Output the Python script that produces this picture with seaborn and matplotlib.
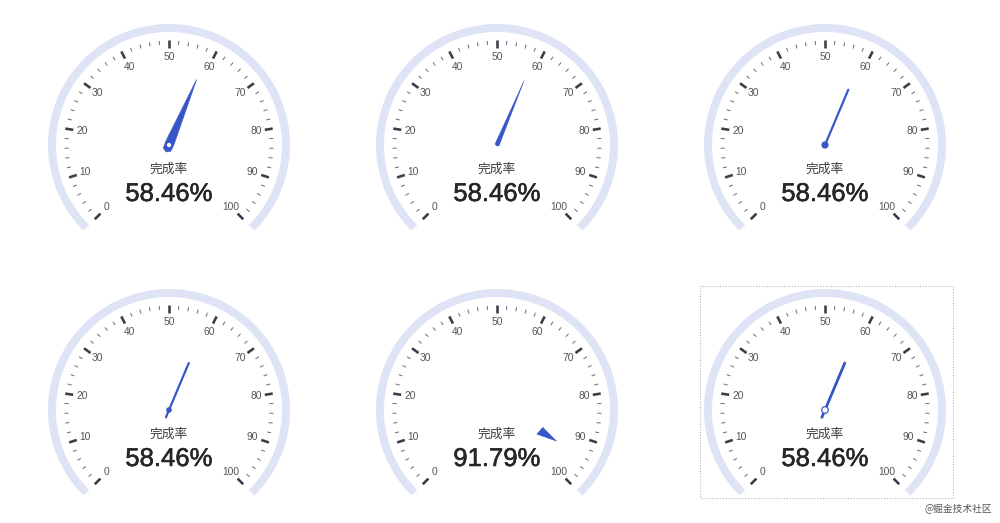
import numpy as np
import matplotlib
matplotlib.use("Agg")
import matplotlib.pyplot as plt
import matplotlib.patheffects as pe
from matplotlib.patches import Polygon, Circle, Rectangle
from matplotlib.collections import LineCollection
import seaborn as sns

# ---- data ----
values = [58.46, 58.46, 58.46, 58.46, 91.79, 58.46]
labels = ["58.46%", "58.46%", "58.46%", "58.46%", "91.79%", "58.46%"]
title = "完成率"
pointer_styles = ["wide", "thin", "dot", "line_dot", "triangle", "line_ring"]
major_ticks = list(range(0, 101, 10))
minor_ticks = list(range(0, 101, 2))
watermark = "@掘金技术社区"

# ---- style ----
sns.set_theme(style="white")
plt.rcParams['font.family'] = ['Liberation Sans', 'Noto Sans CJK SC', 'DejaVu Sans']

BLUE = "#3656C8"
ARC = "#DEE4F6"
TICK = "#3B3E48"
LABEL = "#555555"
TEXT = "#262626"

fig = plt.figure(figsize=(10, 5.23), dpi=100)
ax = fig.add_axes([0, 0, 1, 1])
ax.set_xlim(0, 1000)
ax.set_ylim(523, 0)
ax.axis("off")

PX = 0.72  # points per pixel
START, SWEEP = 225.0, 270.0
centers_x = [169, 497, 825]
centers_y = [145, 410]


def ang(v):
    return np.deg2rad(START - v / 100.0 * SWEEP)


def pt(cx, cy, r, a):
    return cx + r * np.cos(a), cy - r * np.sin(a)


def local(cx, cy, a, pts):
    u = np.array([np.cos(a), -np.sin(a)])
    w = np.array([-np.sin(a), -np.cos(a)])
    return [(cx + p[0] * u[0] + p[1] * w[0], cy + p[0] * u[1] + p[1] * w[1]) for p in pts]


for i, (val, lab, style) in enumerate(zip(values, labels, pointer_styles)):
    cx = centers_x[i % 3]
    cy = centers_y[i // 3]
    # arc band
    t = np.linspace(ang(0), ang(100), 300)
    xs, ys = pt(cx, cy, 117, t)
    ax.plot(xs, ys, color=ARC, lw=8 * PX, solid_capstyle="butt", zorder=1)
    # ticks
    minor = [m for m in minor_ticks if m not in major_ticks]
    segs = [[pt(cx, cy, 100.5, ang(m)), pt(cx, cy, 104.5, ang(m))] for m in minor]
    ax.add_collection(LineCollection(segs, colors="#6a6e78", linewidths=1.0 * PX, zorder=2))
    segs = [[pt(cx, cy, 97, ang(m)), pt(cx, cy, 105, ang(m))] for m in major_ticks]
    ax.add_collection(LineCollection(segs, colors=TICK, linewidths=2.6 * PX, zorder=2))
    for m in major_ticks:
        lx, ly = pt(cx, cy, 88, ang(m))
        ax.text(lx, ly, str(m), ha="center", va="center", fontsize=7.4, color=LABEL, zorder=3)
    # center texts
    ax.text(cx, cy + 24.5, title, ha="center", va="center", fontsize=9.2,
            family=["Noto Sans CJK SC", "DejaVu Sans"], color="#404040", zorder=3)
    ax.text(cx, cy + 49, lab, ha="center", va="center", fontsize=18.5,
            color=TEXT, zorder=3,
            path_effects=[pe.withStroke(linewidth=0.4, foreground=TEXT)])
    # pointer
    a = ang(val)
    if style == "wide":
        poly = local(cx, cy, a, [(71, 0), (2, 4.4), (-5, 4.0), (-7.5, 0), (-5, -4.0), (2, -4.4)])
        ax.add_patch(Polygon(poly, closed=True, fc=BLUE, ec=BLUE, lw=0.5, zorder=4))
        ax.add_patch(Circle((cx, cy), 2.1, fc="white", ec="none", zorder=5))
    elif style == "thin":
        poly = local(cx, cy, a, [(70, 0), (0, 2.2), (-1, 0), (0, -2.2)])
        ax.add_patch(Polygon(poly, closed=True, fc=BLUE, ec=BLUE, lw=0.3, zorder=4))
    elif style == "dot":
        (x0, y0), (x1, y1) = local(cx, cy, a, [(0, 0), (60, 0)])
        ax.plot([x0, x1], [y0, y1], color=BLUE, lw=2.2 * PX, solid_capstyle="round", zorder=4)
        ax.add_patch(Circle((cx, cy), 3.6, fc=BLUE, ec="none", zorder=5))
    elif style == "line_dot":
        (x0, y0), (x1, y1) = local(cx, cy, a, [(-8, 0), (51, 0)])
        ax.plot([x0, x1], [y0, y1], color=BLUE, lw=2.2 * PX, solid_capstyle="round", zorder=4)
        ax.add_patch(Circle((cx, cy), 2.8, fc=BLUE, ec="none", zorder=5))
    elif style == "triangle":
        poly = local(cx, cy, a, [(67, -5.6), (46, -6.8), (49, 1.8)])
        ax.add_patch(Polygon(poly, closed=True, fc=BLUE, ec=BLUE, lw=0.3, zorder=4))
    elif style == "line_ring":
        (x0, y0), (x1, y1) = local(cx, cy, a, [(-8, 0), (51, 0)])
        ax.plot([x0, x1], [y0, y1], color=BLUE, lw=2.8 * PX, solid_capstyle="round", zorder=4)
        ax.add_patch(Circle((cx, cy), 3.3, fc="white", ec=BLUE, lw=1.2 * PX, zorder=5))

# dotted selection frame around the last gauge
ax.add_patch(Rectangle((700, 286), 253, 212, fill=False, ec="#b5b5b5",
                       lw=0.8, ls=(0, (1, 1.5)), zorder=0))

ax.text(992, 508, watermark, ha="right", va="center", fontsize=7,
        family=["Noto Sans CJK SC", "DejaVu Sans"], color="#555555", zorder=6)

fig.savefig("out.png", dpi=100, facecolor="white")
